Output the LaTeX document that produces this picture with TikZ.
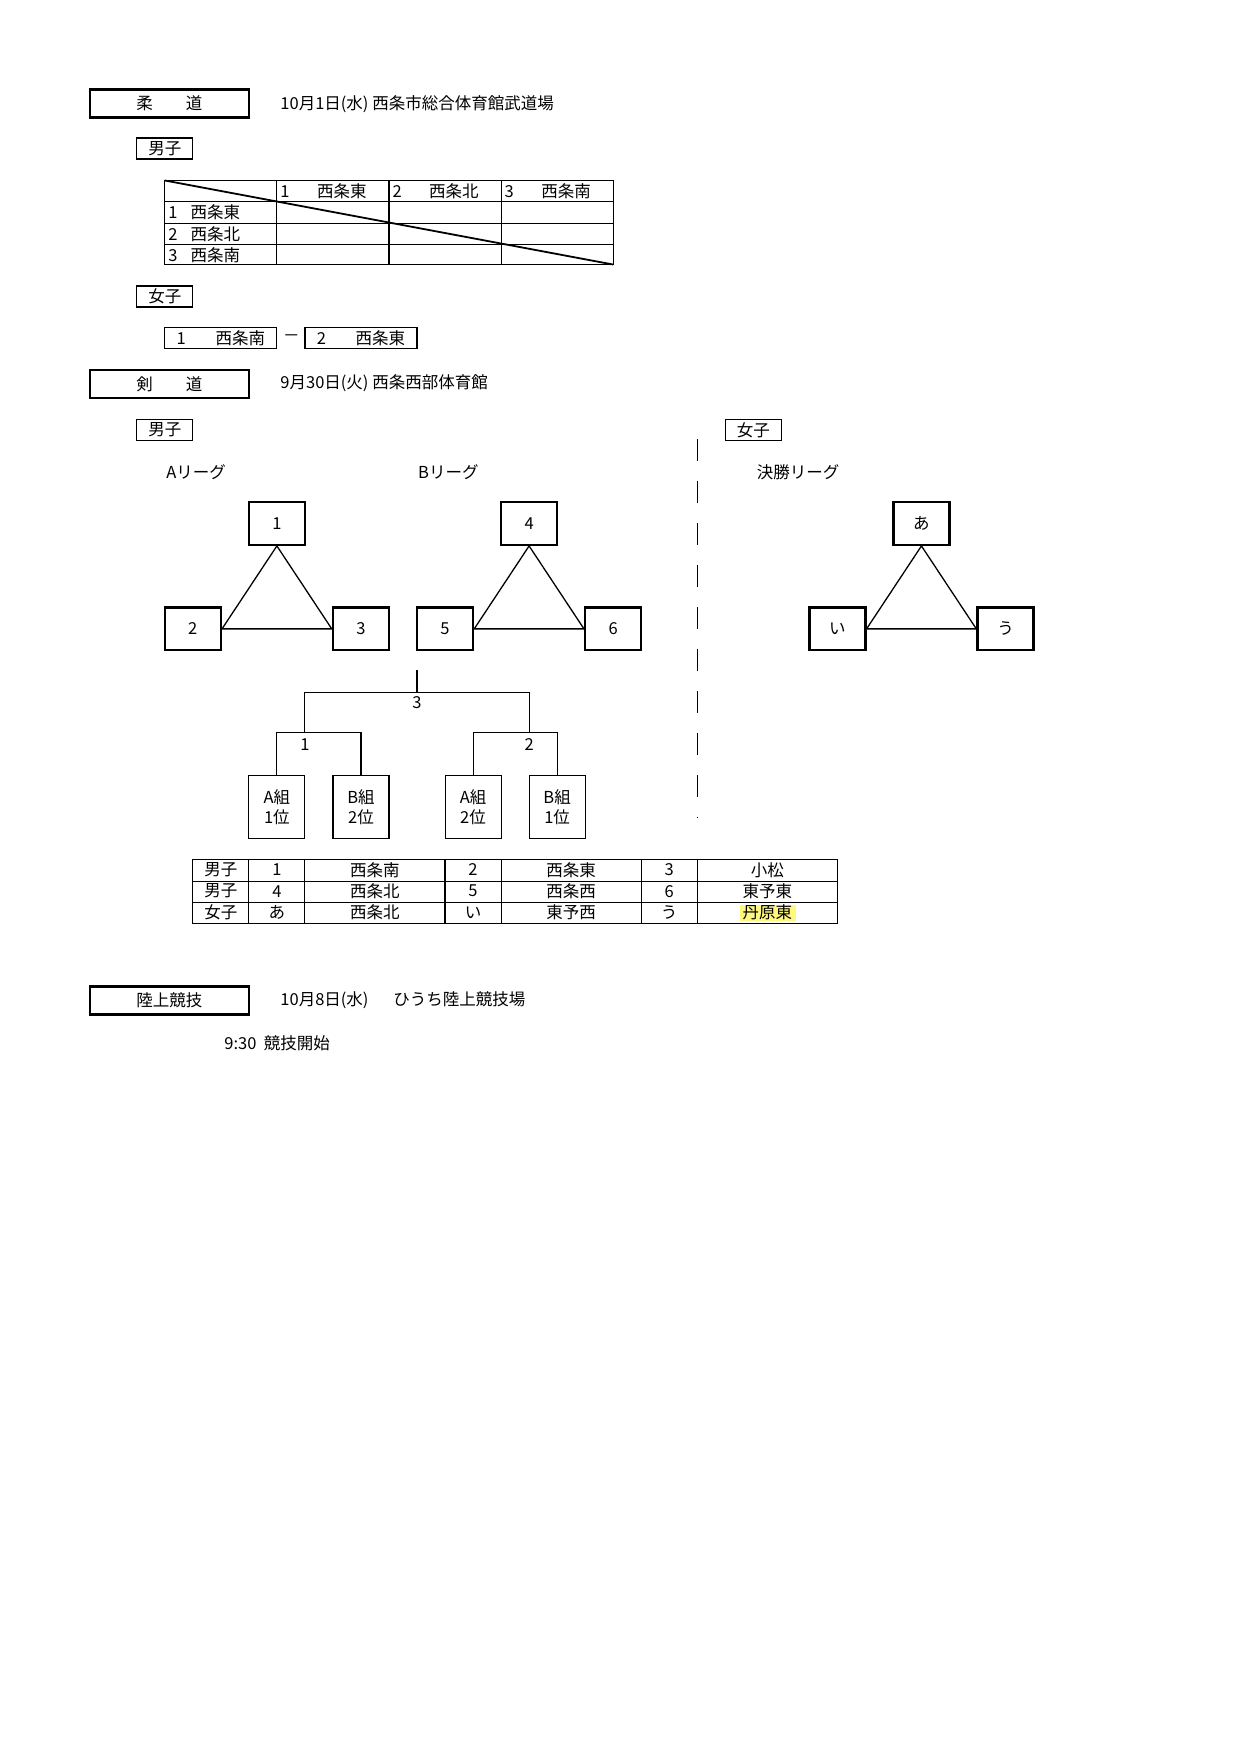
\documentclass[tikz,border=0pt]{standalone}
\usepackage{fontspec}
\setmainfont{Noto Sans CJK JP}
\usetikzlibrary{positioning}
\tikzset{
  head/.style={draw, line width=2.4pt, minimum width=159pt, minimum height=28pt, inner sep=0pt},
  tag/.style={draw, line width=1.3pt, minimum width=56pt, minimum height=21pt, inner sep=0pt},
  team/.style={draw, line width=2.4pt, minimum width=56pt, minimum height=42.5pt, inner sep=0pt},
  seed/.style={draw, line width=1.1pt, minimum width=56pt, minimum height=63pt, inner sep=0pt, align=center},
  txt/.style={inner sep=0pt, anchor=west}
}
\begin{document}
\begin{tikzpicture}[x=1.121pt, y=-1.121pt, font=\fontsize{16.5}{20}\selectfont]
\useasboundingbox (0,0) rectangle (1108,1566.5);

% 柔道
\node[head] (judo) at (151,92.5) {柔\hspace{2em}道};
\node[txt] at (250,93) {10月1日(水)\ 西条市総合体育館武道場};
\node[tag] (jm) at (147,132.5) {男子};
\draw[line width=1.1pt] (147,161) rectangle (547,236);
\foreach \y in {180,199,218} \draw[line width=1.1pt] (147,\y) -- (547,\y);
\foreach \x in {247,347,447} \draw[line width=1.1pt] (\x,161) -- (\x,236);
\draw[line width=1.8pt] (147,161) -- (547,236);
\foreach \n/\s [count=\i] in {1/西条東,2/西条北,3/西条南} {
  \node[txt] at (150,170.5+19*\i) {\n\hspace{0.8em}\s};
  \node[txt] at (150+100*\i,170.5) {\n};
  \node at (205+100*\i,170.5) {\s};
}
\node[tag] (jf) at (147,264.5) {女子};
\node[draw, line width=1.3pt, minimum width=112pt, minimum height=21pt, inner sep=0pt] (f1) at (197,301.5) {1\hspace{1.8em}西条南};
\node[draw, line width=1.3pt, minimum width=112pt, minimum height=21pt, inner sep=0pt] (f2) at (322,301.5) {2\hspace{1.8em}西条東};
\node at (260,301.5) {－};

% 剣道
\node[head] (kendo) at (151,342.5) {剣\hspace{2em}道};
\node[txt] at (250,342) {9月30日(火)\ 西条西部体育館};
\node[tag] (km) at (147,383.5) {男子};
\node[tag] (kf) at (672,383.5) {女子};
\draw[line width=1.3pt, dash pattern=on 22pt off 20pt] (622,392) -- (622,730);
\node at (175,421) {Aリーグ};
\node at (400,421) {Bリーグ};
\node at (712,421) {決勝リーグ};

\foreach \dx/\a/\b/\c in {0/1/2/3, 225/4/5/6, 575/あ/い/う} {
  \node[team] (t\a) at (247+\dx,467) {\a};
  \node[team] (t\b) at (172+\dx,561) {\b};
  \node[team] (t\c) at (322+\dx,561) {\c};
  \draw[line width=1.3pt] (t\a.south) -- (t\b.east) -- (t\c.west) -- (t\a.south);
}

% トーナメント
\node[seed] (s1) at (247,720) {A組\\1位};
\node[seed] (s2) at (322,720) {B組\\2位};
\node[seed] (s3) at (422,720) {A組\\2位};
\node[seed] (s4) at (497,720) {B組\\1位};
\coordinate (top) at (372,598);
\draw[line width=1.1pt] (s1.north) -- ++(0,-38) -| (s2.north);
\draw[line width=1.1pt] (s3.north) -- ++(0,-38) -| (s4.north);
\draw[line width=1.1pt] (272,654) -- (272,618) -| (472,654);
\draw[line width=1.1pt] (top) -- (372,618);
\node at (372,627) {3};
\node at (272,664) {1};
\node at (472,664) {2};

\draw[line width=1.1pt] (172,767) rectangle (747,824);
\foreach \y in {786,805} \draw[line width=1.1pt] (172,\y) -- (747,\y);
\foreach \x in {222,272,397,447,572,622} \draw[line width=1.1pt] (\x,767) -- (\x,824);
\fill[yellow!50] (660,807) rectangle (710,822);
\foreach \g/\a/\ta/\b/\tb/\c/\tc [count=\r] in {男子/1/西条南/2/西条東/3/小松, 男子/4/西条北/5/西条西/6/東予東, 女子/あ/西条北/い/東予西/う/丹原東} {
  \node at (197,757+19*\r) {\g};
  \node at (247,757+19*\r) {\a};
  \node at (334.5,757+19*\r) {\ta};
  \node at (422,757+19*\r) {\b};
  \node at (509.5,757+19*\r) {\tb};
  \node at (597,757+19*\r) {\c};
  \node at (684.5,757+19*\r) {\tc};
}

% 陸上競技
\node[head] (track) at (151,892.5) {陸上競技};
\node[txt] at (250,892) {10月8日(水)\hspace{1.5em}ひうち陸上競技場};
\node[txt] at (200,931) {9:30\ \ 競技開始};
\end{tikzpicture}
\end{document}
